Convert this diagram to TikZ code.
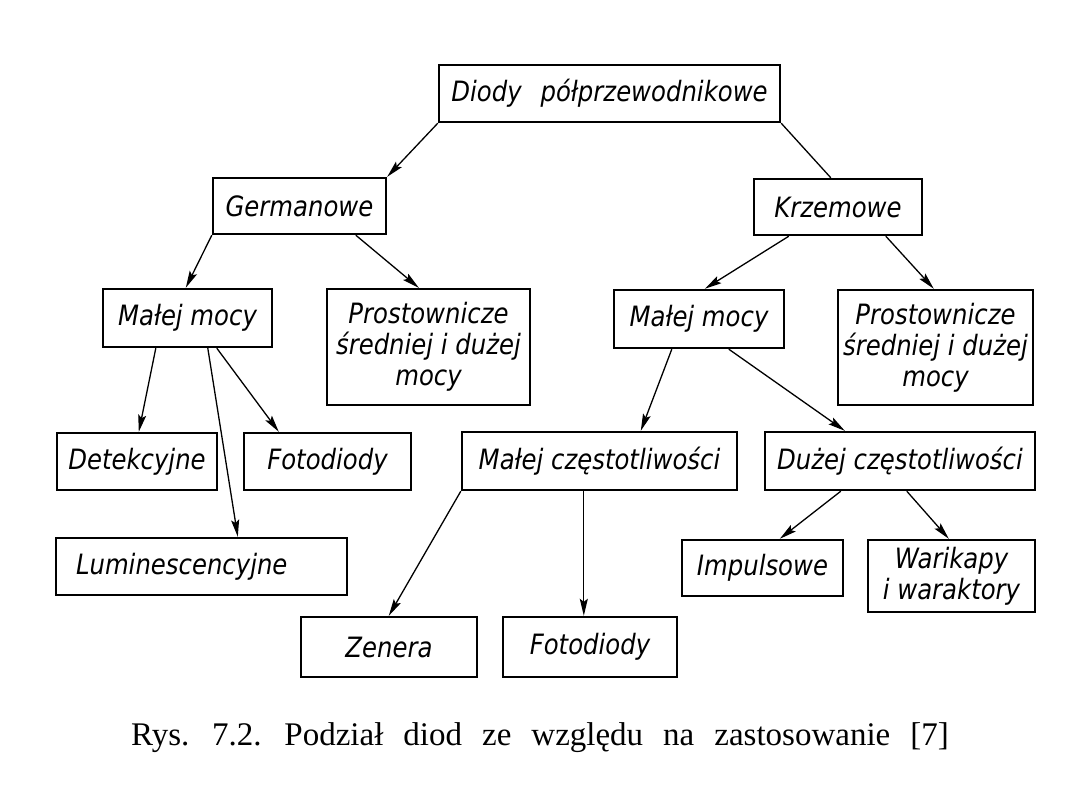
\documentclass[tikz,border=0pt]{standalone}
\usepackage{fontspec}
\usetikzlibrary{arrows.meta,calc}
\newfontfamily\techfont[FakeStretch=0.87]{DejaVu Sans}
\newfontfamily\capfont{Liberation Serif}
\tikzset{
  box/.style={draw, line width=2.4pt, inner sep=0pt, align=center,
    font=\techfont\itshape\fontsize{28}{31}\selectfont},
  conn/.style={line width=1.3pt},
  arr/.style={conn, -{Stealth[length=17pt,width=8pt,inset=3pt]}},
}
\begin{document}
\begin{tikzpicture}[x=1pt,y=-1pt]
\useasboundingbox (0,0) rectangle (1080,810);
\node[box, minimum width=341pt, minimum height=57pt] (top) at (609.5,93.5) {Diody\hspace{0.4em} półprzewodnikowe};
\node[box, minimum width=173pt, minimum height=56pt] (germ) at (299.5,206) {Germanowe};
\node[box, minimum width=168pt, minimum height=56pt] (krzem) at (838,207) {Krzemowe};
\node[box, minimum width=169pt, minimum height=58pt] (mmL) at (187.5,318) {Małej mocy};
\node[box, minimum width=203pt, minimum height=116pt] (prosL) at (428.5,347) {Prostownicze\\średniej i dużej\\mocy};
\node[box, minimum width=170pt, minimum height=58pt] (mmR) at (699,319) {Małej mocy};
\node[box, minimum width=195pt, minimum height=115pt] (prosR) at (935.5,347.5) {Prostownicze\\średniej i dużej\\mocy};
\node[box, minimum width=160pt, minimum height=57pt] (det) at (137,461.5) {Detekcyjne};
\node[box, minimum width=167pt, minimum height=57pt] (fotoL) at (327.5,461.5) {Fotodiody};
\node[box, minimum width=275pt, minimum height=58pt] (mcz) at (599.5,461) {Małej częstotliwości};
\node[box, minimum width=270pt, minimum height=58pt] (dcz) at (900,461) {Dużej częstotliwości};
\node[box, minimum width=291pt, minimum height=57pt, text width=251pt, align=left] (lum) at (201.5,566.5) {Luminescencyjne};
\node[box, minimum width=161pt, minimum height=56pt] (imp) at (762.5,568) {Impulsowe};
\node[box, minimum width=167pt, minimum height=72pt] (wari) at (951.5,576) {Warikapy\\i waraktory};
\node[box, minimum width=176pt, minimum height=60pt] (zen) at (389,647) {Zenera};
\node[box, minimum width=174pt, minimum height=60pt] (fotoR) at (590,647) {Fotodiody};

\draw[arr] (top.south west) -- (germ.north east);
\draw[conn] (top.south east) -- ($(krzem.north west)+(78,0)$);
\draw[arr] (germ.south west) -- ($(mmL.north west)+(84,0)$);
\draw[arr] ($(germ.south west)+(144,0)$) -- ($(prosL.north west)+(93,0)$);
\draw[arr] ($(krzem.south west)+(36,0)$) -- ($(mmR.north west)+(92,0)$);
\draw[arr] ($(krzem.south west)+(133,0)$) -- ($(prosR.north west)+(97,0)$);
\draw[arr] ($(mmL.south west)+(54,0)$) -- ($(det.north west)+(83,0)$);
\draw[arr] ($(mmL.south west)+(106,0)$) -- ($(lum.north west)+(183,0)$);
\draw[arr] ($(mmL.south west)+(115,0)$) -- ($(fotoL.north west)+(36,0)$);
\draw[arr] ($(mmR.south west)+(59,0)$) -- ($(mcz.north west)+(180,0)$);
\draw[arr] ($(mmR.south west)+(116,0)$) -- ($(dcz.north west)+(81,0)$);
\draw[arr] (mcz.south west) -- ($(zen.north west)+(89,0)$);
\draw[arr] ($(mcz.south west)+(123,0)$) -- ($(fotoR.north west)+(82,0)$);
\draw[arr] ($(dcz.south west)+(77,0)$) -- ($(imp.north west)+(99,0)$);
\draw[arr] ($(dcz.south west)+(143,0)$) -- ($(wari.north west)+(82,0)$);

\node[anchor=base, inner sep=0pt, font=\capfont\fontsize{33}{36}\selectfont] (cap) at (540,745) {\spaceskip=20pt\relax Rys. 7.2. Podział diod ze względu na zastosowanie [7]};
\end{tikzpicture}
\end{document}
